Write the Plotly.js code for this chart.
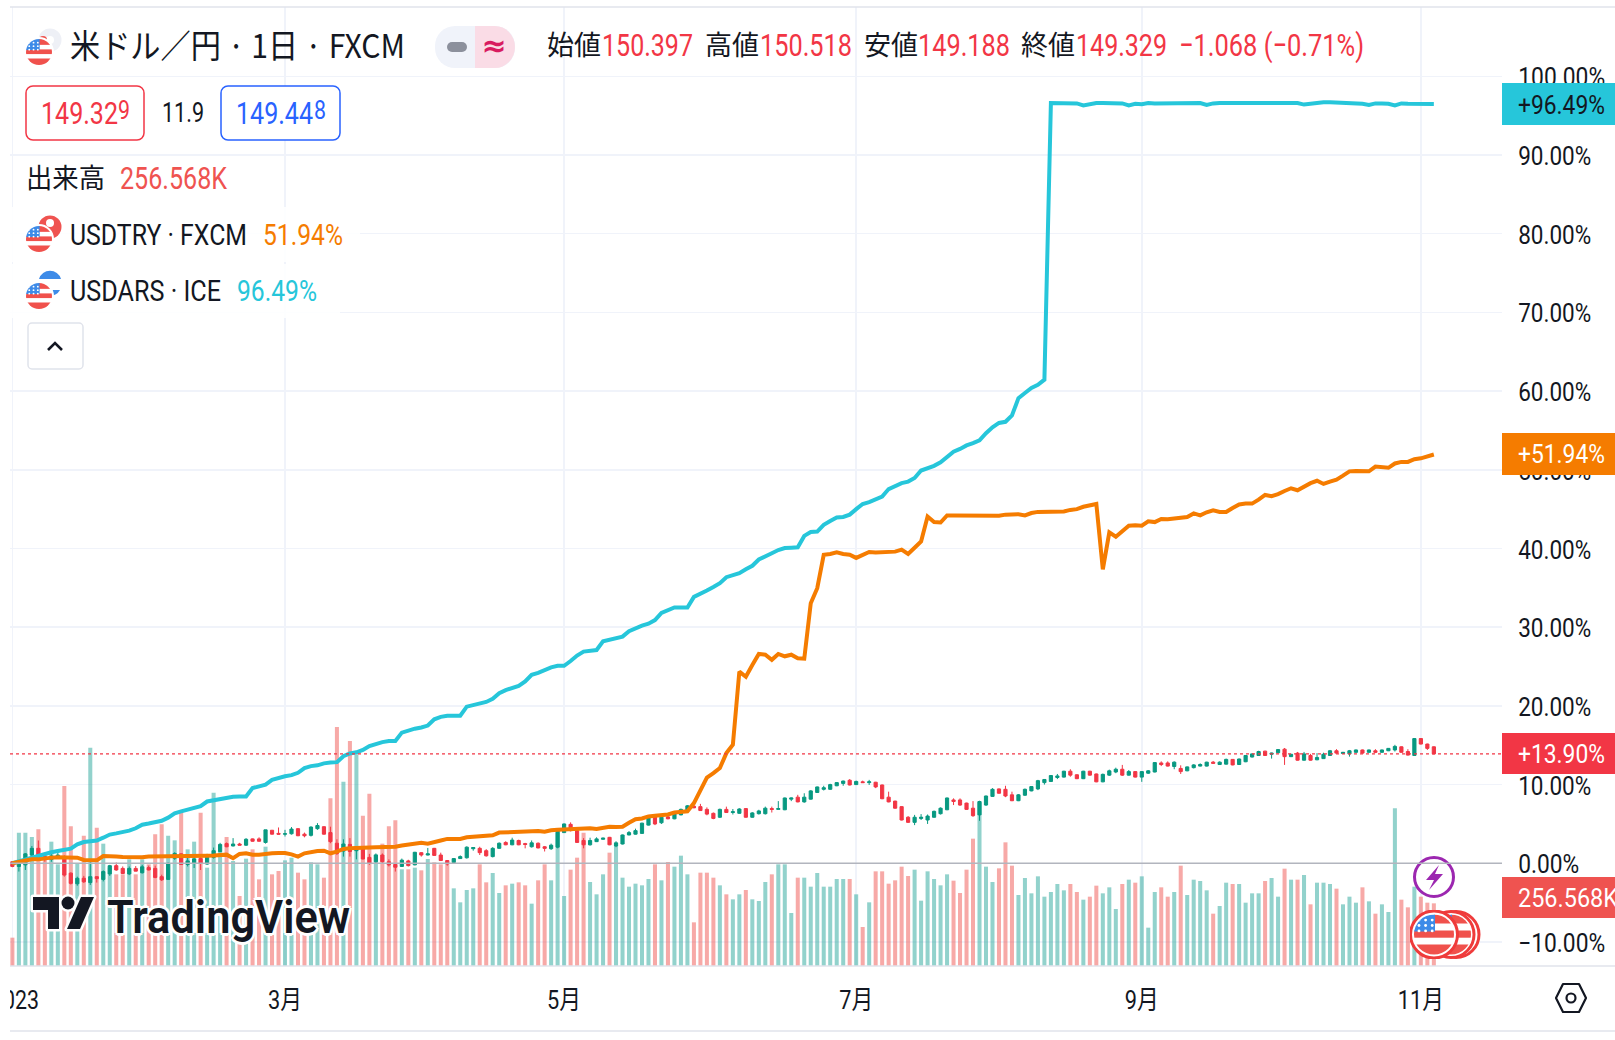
<!DOCTYPE html>
<html lang="ja">
<head>
<meta charset="utf-8">
<title>米ドル／円</title>
<script src="https://cdn.plot.ly/plotly-3.0.1.min.js"></script>
<style>
html,body{margin:0;padding:0;background:#fff;width:1615px;height:1040px;overflow:hidden}
#chart{position:absolute;left:10px;top:0;width:1605px;height:1040px;overflow:hidden}
</style>
</head>
<body>
<div id="chart"></div>
<script>
// ---- price candles, % change from the start of the visible range ----
const opens = [
.2,-.4,-.2,1.05,1.9,.85,.5,.75,.85,-1.25,
-2.6,-1.9,-2.45,-1.7,-2.05,-1.35,-.3,-.65,-1.35,-.65,
-1.2,-.55,-.65,-1.7,-2.05,.65,1.2,-.15,0,.6,
-.1,.75,1.5,2.5,2.2,2.45,2.3,3.1,3.1,2.65,
4.2,3.8,3.7,3.75,4.4,3.7,3.55,4.4,4.65,3.9,
2.55,1.55,2.4,1.6,2.05,.75,.2,1.05,.2,-.15,
-.4,.3,-.2,1.35,1.05,1.9,1.05,.35,.1,.6,
.7,1.85,1.9,1.6,.85,1.9,2.65,2.35,2.9,2.5,
2.1,2.55,2.1,1.85,2.05,3.9,4.95,4.15,2.9,2.35,
2.75,3.05,3.3,2.2,2.45,3.6,3.7,3.8,4.85,5.9,
5.15,5.9,5.65,6.15,6.7,7.25,7.2,6.85,6.35,5.85,
6.85,6.45,6.35,6.95,5.85,6.3,6.3,6.95,6.85,6.8,
8.15,8.4,7.8,8.15,9.0,9.4,9.4,9.85,10.15,10.55,
10.0,10.35,10.25,10.3,9.95,8.4,7.9,7.2,5.85,5.2,
5.7,5.5,5.85,6.3,6.8,8.05,8.05,7.65,7.0,6.15,
7.4,8.5,9.45,9.4,8.7,7.95,8.65,9.2,9.45,10.25,
10.4,10.9,10.95,11.7,11.25,10.75,11.7,11.35,10.35,11.2,
11.6,11.95,11.2,11.65,10.95,11.45,11.6,12.75,12.75,12.3,
12.05,11.75,12.15,12.35,12.35,12.85,12.55,12.6,13.2,12.55,
12.9,13.5,13.7,14.25,13.85,14.05,14.5,13.55,14.0,13.1,
13.7,13.15,13.3,13.7,14.3,13.95,13.9,14.1,14.4,14.1,
14.3,14.1,14.3,14.4,14.8,14.2,13.7,15.85,15.15,14.8];
const closes = [
-.4,.2,1.2,1.9,.65,.5,.93,1.05,-1.5,-2.55,
-1.9,-2.35,-1.7,-1.95,-1.05,-.3,-.85,-1.3,-.65,-1.0,
-.45,-.85,-1.8,-2.1,0,1.25,-.15,.3,.55,0,
1.05,1.6,2.4,2.1,2.45,2.3,3.05,2.8,2.8,4.25,
3.7,3.7,3.75,4.35,3.5,3.5,4.6,4.8,3.7,2.75,
1.25,2.45,1.5,2.1,.55,0,1.05,.2,-.2,-.5,
.4,-.3,1.4,1.05,1.2,1.0,.35,-.1,.6,.85,
2.05,2.0,1.35,.95,1.9,2.55,2.35,2.95,2.35,2.4,
2.6,1.95,1.9,2.3,4.1,5.0,4.15,2.65,2.35,2.9,
3.1,3.2,2.35,2.6,3.6,3.9,4.15,5.1,5.85,5.0,
5.85,5.65,6.35,6.85,7.3,7.05,6.7,6.25,5.7,6.85,
6.45,6.55,6.9,5.85,6.4,6.65,7.0,6.85,6.95,8.3,
8.3,7.8,8.4,9.2,9.7,9.6,10.0,10.25,10.45,9.95,
10.4,10.25,10.35,9.7,8.2,7.8,7.0,5.5,5.2,5.85,
5.85,6.0,6.6,7.0,8.3,7.85,7.4,6.85,6.05,7.85,
8.55,9.4,8.9,8.55,7.95,8.7,9.4,9.75,10.5,10.65,
11.15,11.1,11.7,11.2,10.75,11.7,11.2,10.35,11.3,11.75,
11.95,11.2,11.65,10.95,11.65,11.75,12.8,12.55,12.35,12.85,
11.65,12.25,12.5,12.55,12.85,12.7,12.85,13.2,12.5,13.25,
13.7,13.9,14.2,13.7,14.0,14.45,13.55,13.85,13.1,13.9,
13.1,13.45,13.85,14.3,14.0,14.1,14.3,14.4,14.0,14.4,
14.1,14.4,14.6,14.85,14.1,13.75,15.85,15.15,14.6,13.9];
const highs = [
.25,.3,1.3,2.2,2.9,1.3,1.3,1.4,1.0,-1.15,
-1.7,-1.6,.5,-1.65,-.9,-.2,.1,-.4,-.4,-.35,
-.2,-.3,-.3,-1.45,.1,1.4,1.25,.8,1.0,1.05,
1.2,2.0,2.6,2.65,3.2,2.6,3.2,3.15,3.3,4.25,
4.2,4.55,4.25,4.6,4.45,3.9,4.7,5.1,4.7,4.65,
3.05,3.05,3.2,2.2,2.1,1.2,1.25,1.25,.5,-.1,
.6,.45,1.45,1.4,1.95,1.95,1.35,.4,.65,1.0,
2.15,2.0,2.1,1.8,2.05,2.65,2.8,3.25,3.0,2.6,
2.9,2.65,2.2,2.5,4.2,5.05,5.2,4.2,3.2,3.25,
3.3,3.25,3.35,2.8,3.65,4.1,4.4,5.15,6.0,6.1,
5.95,6.0,6.5,6.95,7.4,7.5,7.55,7.1,6.45,6.95,
7.2,6.9,7.0,7.0,6.5,6.8,7.2,7.2,7.9,8.35,
8.35,8.7,8.9,9.3,9.75,9.85,10.1,10.3,10.5,10.7,
10.5,10.5,10.6,10.35,10.0,9.1,7.95,7.25,6.0,6.15,
6.25,6.2,6.7,7.1,8.35,8.25,8.25,7.7,7.9,7.95,
8.6,9.55,9.5,9.85,9.1,8.8,9.5,9.8,10.6,10.7,
11.2,11.35,11.75,11.95,11.3,11.75,11.75,11.4,11.4,11.9,
12.15,12.5,11.85,11.7,11.7,11.85,12.85,12.95,12.95,12.95,
12.45,12.3,12.6,12.7,12.9,13.0,12.95,13.3,13.25,13.3,
13.75,13.95,14.3,14.3,14.05,14.5,14.65,13.9,14.15,14.15,
13.9,14.0,14.05,14.4,14.5,14.15,14.4,14.45,14.45,14.45,
14.5,14.45,14.65,15.05,14.85,14.5,15.9,15.9,15.2,14.85];
const lows = [
-.5,-1.05,-.85,.65,.4,.2,.2,.6,-1.7,-2.7,
-2.85,-2.5,-2.75,-2.45,-2.3,-1.6,-.95,-1.35,-1.5,-1.0,
-1.3,-.9,-1.9,-2.25,-2.05,.45,-.2,-.4,-.6,-.85,
-.2,.6,1.4,2.05,2.15,2.3,2.2,2.75,2.75,2.5,
3.65,3.65,3.4,3.65,3.45,3.3,3.4,4.25,3.65,2.55,
1.05,.85,.85,.5,.5,-.2,0,0,-.4,-1.05,
-.45,-.4,-.25,.85,1.0,.95,.3,-.3,0,.55,
.6,1.6,1.05,.85,.75,1.85,2.3,2.3,2.3,1.9,
2.0,1.9,1.5,1.7,1.9,3.85,4.05,2.6,1.9,2.25,
2.7,3,2.3,2.05,2.4,3.55,3.65,3.75,4.8,4.85,
5,5.6,5.6,6.1,6.65,7,6.65,6.1,5.6,5.75,
6.4,6.2,6.3,5.8,5.8,6.2,6.2,6.45,6.85,6.75,
7.9,7.75,7.7,8.1,8.95,9.25,9.35,9.8,9.85,9.9,
9.95,10.25,9.95,9.55,8.15,7.75,6.95,5.45,5.15,4.85,
5.5,5.0,5.8,6.2,6.75,7.4,7.3,6.8,5.9,5.4,
7.3,8.45,8.85,8.4,7.9,7.9,8.55,9.15,9.3,10.0,
10.35,10.7,10.9,11.0,10.7,10.7,11.15,10.3,10.3,11.1,
11.45,11.1,11.15,10.9,10.35,11.35,11.55,12.35,12.3,11.95,
11.35,11.7,12.05,12.3,12.3,12.65,12.5,12.55,12.45,12.5,
12.85,13.45,13.65,13.65,13.3,14.0,12.5,13.5,13.05,13.05,
13.05,13.1,13.25,13.65,13.95,13.9,13.55,14.05,13.95,14.05,
14.0,14.05,14.25,14.2,14.05,13.7,13.65,15.1,14.4,13.85];
// ---- volume, relative units ----
const volumes = [
85,400,400,387,410,335,373,305,540,419,
308,391,655,415,367,295,275,275,320,275,
320,305,395,425,391,377,465,350,373,460,
295,520,345,387,315,210,322,350,260,358,
275,285,317,325,280,260,311,305,265,503,
717,553,675,635,451,517,335,367,419,437,
290,290,295,287,321,311,305,305,233,191,
228,233,305,251,279,219,242,247,251,242,
187,257,305,257,400,210,289,325,400,252,
215,275,340,363,265,238,247,242,261,305,
257,312,298,331,275,131,280,280,265,242,
215,200,215,228,200,195,252,275,305,305,
159,265,265,238,279,238,238,261,261,261,
215,117,191,284,284,247,257,298,270,289,
196,284,261,242,275,256,219,289,382,490,
298,252,293,371,301,213,264,218,269,208,
222,246,227,246,222,199,208,241,218,236,
171,246,259,250,269,115,222,236,208,222,
301,213,259,255,227,157,180,250,246,246,
190,218,218,255,264,208,292,259,259,273,
185,250,250,246,232,185,208,190,236,194,
157,185,162,473,199,176,238,208,190,188];
// ---- comparison series, % change ----
const usdtry = [
0,.17,.34,.5,.5,.64,.72,.76,.76,.76,
.72,.42,.42,.38,.93,.93,.85,.8,.76,.72,
.76,.85,.85,.85,.85,.85,.85,.85,.89,.93,
.97,1.0,1.1,1.1,.64,1.19,1.27,1.1,1.1,1.23,
1.27,1.31,1.31,1.14,.85,1.27,1.48,1.57,1.6,1.27,
1.48,1.82,1.9,1.9,2.0,2.0,2.03,2.03,2.05,2.1,
2.25,2.35,2.4,2.6,2.5,2.75,2.9,3.1,3.05,3.1,
3.3,3.35,3.5,3.55,3.55,3.9,3.95,4.0,4.05,4.07,
4.15,4.1,4.0,4.2,4.25,4.3,4.25,4.3,4.35,4.45,
4.35,4.5,4.65,4.6,4.65,5.15,5.6,5.7,5.95,6.05,
6.15,6.2,6.45,6.5,6.6,7.65,9.3,10.9,11.45,12.1,
14,15.05,24.35,23.7,25.2,26.6,26.5,25.85,26.6,26.3,
26.5,26.05,26,33.05,34.95,39.2,39.3,39.5,39.3,39.2,
38.8,39.2,39.55,39.5,39.5,39.6,39.6,39.85,39.3,40.1,
40.9,44.05,43.35,43.3,44.2,44.2,44.2,44.2,44.25,44.2,
44.25,44.2,44.15,44.3,44.3,44.35,44.2,44.5,44.65,44.65,
44.65,44.7,44.7,44.9,45,45.3,45.45,45.65,37.35,42.05,
41.5,42.15,42.9,42.95,42.9,43.45,43.35,43.75,43.7,43.8,
43.9,44.0,44.45,44.2,44.6,44.85,44.65,44.65,45.15,45.6,
45.7,45.7,46.2,46.8,46.65,46.9,47.3,47.65,47.4,47.9,
48.3,48.6,48.2,48.5,48.75,49.25,49.8,49.85,49.85,49.8,
50.4,50.35,50.25,50.8,51,51,51.35,51.45,51.65,51.94];
const usdars = [
0,.25,.5,.75,.95,1.25,1.4,1.55,1.7,1.85,
2.4,2.7,2.8,2.9,3.25,3.65,3.8,3.95,4.15,4.45,
4.9,5.05,5.2,5.4,5.8,6.35,6.6,6.8,7.0,7.25,
7.85,8.0,8.2,8.4,8.45,8.5,8.5,9.55,9.75,10,
10.6,10.85,11.05,11.2,11.5,12.1,12.35,12.45,12.7,12.8,
12.85,13.6,13.95,14.1,14.4,14.9,15.2,15.4,15.55,15.55,
16.6,16.9,17.1,17.25,17.5,18.3,18.6,18.75,18.8,18.75,
19.9,20.1,20.3,20.5,20.9,21.6,22.0,22.3,22.55,23.1,
23.95,24.2,24.55,24.9,25.1,25.1,25.7,26.4,26.9,27.05,
27.1,28.2,28.4,28.6,28.8,29.5,29.9,30.2,30.45,30.9,
31.8,32.15,32.5,32.5,32.5,33.85,34.2,34.65,35.1,35.6,
36.35,36.6,36.85,37.35,37.8,38.6,38.95,39.4,39.8,40.05,
40.1,40.15,41.6,42.1,42.15,43,43.5,43.95,44,44.3,
45,45.65,45.9,46.3,46.6,47.55,47.9,48.3,48.5,48.95,
49.9,50.2,50.5,50.95,51.6,52.3,52.65,53.1,53.4,53.75,
54.65,55.4,55.95,56.1,56.9,59.1,59.75,60.4,60.8,61.45,
96.6,96.6,96.6,96.55,96.55,96.3,96.5,96.6,96.6,96.55,
96.6,96.55,96.3,96.5,96.45,96.6,96.55,96.55,96.55,96.55,
96.55,96.6,96.6,96.6,96.35,96.55,96.6,96.6,96.6,96.6,
96.6,96.6,96.55,96.55,96.6,96.55,96.55,96.6,96.6,96.4,
96.5,96.65,96.7,96.7,96.65,96.6,96.55,96.6,96.5,96.35,
96.55,96.55,96.5,96.3,96.55,96.5,96.5,96.5,96.5,96.49];
// ---- axes ----
const monthTickBars = [0,42,85,130,174,217];
const monthTickLabels = ["2023","3月","5月","7月","9月","11月"];
const pctTicks = [-10,0,10,20,30,40,50,60,70,80,90,100];
const pctTickLabels = ["−10.00%","0.00%","10.00%","20.00%","30.00%","40.00%","50.00%","60.00%","70.00%","80.00%","90.00%","100.00%"];
const lastClose = 13.90;

const barIndex = closes.map((_, i) => i);
const UP = "#089981", DOWN = "#F23645", TEAL = "#26C6DA", ORANGE = "#F57C00";
const NARROW = 'Roboto,"Noto Sans CJK JP",sans-serif';
const CJK = '"Noto Sans CJK JP",Roboto,sans-serif';
const INK = "#131722";

// pixel → paper helpers
const L = 10, R = 1502, T = 7, B = 966;
const xp = px => (px - L) / (R - L);
const yp = py => (B - py) / (B - T);

function ann(text, x, y, size, color, w, opt = {}) {
  return Object.assign({
    text, x: xp(x - 2), y: yp(y), xref: "paper", yref: "paper", showarrow: false,
    xanchor: "left", yanchor: "middle", w,
    font: { family: NARROW, size, color }
  }, opt);
}
function img(svg, x0, y0, w, h) {
  return {
    source: "data:image/svg+xml," + encodeURIComponent(
      `<svg xmlns="http://www.w3.org/2000/svg" viewBox="0 0 ${w} ${h}" width="${w}" height="${h}">${svg}</svg>`),
    xref: "paper", yref: "paper", x: xp(x0), y: yp(y0),
    sizex: w / (R - L), sizey: h / (B - T), xanchor: "left", yanchor: "top",
    sizing: "stretch", layer: "above"
  };
}
function box(x0, y0, x1, y1, fill) {
  return { type: "rect", xref: "paper", yref: "paper", x0: xp(x0), x1: xp(x1), y0: yp(y0), y1: yp(y1),
    fillcolor: fill, line: { width: 0 }, layer: "above" };
}

// icon drawings
function usDisc(cx, cy, r, id) {
  const d = r * 0.13;
  let stars = "";
  for (let a = 0; a < 3; a++) for (let b = 0; b < 3; b++)
    stars += `<circle cx="${cx - r*0.75 + a*r*0.33}" cy="${cy - r*0.72 + b*r*0.27}" r="${d*0.55}" fill="#fff"/>`;
  return `<clipPath id="${id}"><circle cx="${cx}" cy="${cy}" r="${r}"/></clipPath>
  <g clip-path="url(#${id})"><rect x="${cx-r}" y="${cy-r}" width="${2*r}" height="${2*r}" fill="#fff"/>
  <rect x="${cx-r}" y="${cy-r*0.2}" width="${2*r}" height="${r*0.36}" fill="#F0514C"/>
  <rect x="${cx-r}" y="${cy+r*0.5}" width="${2*r}" height="${r*0.6}" fill="#F0514C"/>
  <rect x="${cx}" y="${cy-r}" width="${r}" height="${r*0.45}" fill="#F0514C"/>
  <rect x="${cx-r}" y="${cy-r}" width="${r*1.05}" height="${r*0.85}" fill="#3D8BE8"/>${stars}</g>`;
}
function pairIcon(kind, id) {
  let second = "";
  if (kind === "jp") second = `<circle cx="25" cy="14" r="11.5" fill="#EEF0F6"/><circle cx="25" cy="14" r="4" fill="#fff"/><circle cx="18" cy="14" r="4" fill="#F0514C"/>`;
  if (kind === "tr") second = `<circle cx="25" cy="14" r="11.5" fill="#EF5350"/><circle cx="25" cy="10" r="4" fill="#fff"/>`;
  if (kind === "ar") second = `<circle cx="25" cy="14" r="11.5" fill="#fff"/><path d="M14 9 a11.5 11.5 0 0 1 22 0z" fill="#3D8BE8"/><path d="M15 20 a11.5 11.5 0 0 0 20 0z" fill="#3D8BE8"/>`;
  return second + `<circle cx="14" cy="26" r="15" fill="#fff"/>` + usDisc(14, 26, 13, id);
}
const coinSvg = `<circle cx="46" cy="24.5" r="23" fill="#fff" stroke="#EF3B3B" stroke-width="3"/>
  <circle cx="41" cy="24.5" r="23" fill="#fff" stroke="#EF3B3B" stroke-width="3"/>` + usDisc(41, 24.5, 20, "c1") +
  `<circle cx="24" cy="24.5" r="23.5" fill="#fff" stroke="#EF3B3B" stroke-width="3"/>` + usDisc(24, 24.5, 20, "c2");
const boltSvg = `<circle cx="22" cy="24" r="19.5" fill="#fff" stroke="#9C27B0" stroke-width="3"/>
  <path d="M27 12 L14 27 H22 L17 37 L31 21 H23 Z" fill="#9C27B0"/>`;
const gearSvg = `<path d="M8 2 H24 L31 16 L24 30 H8 L1 16 Z" fill="none" stroke="#131722" stroke-width="2.2" stroke-linejoin="round"/>
  <circle cx="16" cy="16" r="4.5" fill="none" stroke="#131722" stroke-width="2.2"/>`;
const pillSvg = `<rect x="0" y="0" width="80" height="42" rx="20" fill="#F0F3FA"/>
  <path d="M40 0 H60 a20 21 0 0 1 0 42 H40 Z" fill="#FADCE6"/>
  <rect x="12" y="16" width="20" height="10" rx="5" fill="#8C909C"/>
  <text x="59" y="30" text-anchor="middle" font-family="DejaVu Sans" font-weight="bold" font-size="30" fill="#D81B60">≈</text>`;
const logoSvg = `<g stroke="#fff" stroke-width="5" paint-order="stroke" stroke-linejoin="round" fill="#131722">
  <path d="M5 4 H31 V36 H20 V17 H5 Z"/><circle cx="40" cy="10" r="6.5"/><path d="M53 4 H66 L52 36 H39 Z"/></g>`;
const outlineBox = (w, h, c) => `<rect x="1" y="1" width="${w-2}" height="${h-2}" rx="7" fill="#fff" stroke="${c}" stroke-width="1.5"/>`;
const chevronBtn = `<rect x="1" y="1" width="55" height="46" rx="4" fill="#fff" stroke="#E0E3EB" stroke-width="1.5"/>
  <path d="M21 28 L28 21 L35 28" fill="none" stroke="#131722" stroke-width="2.6"/>`;
const veil = (w, h) => `<rect width="${w}" height="${h}" fill="#fff" fill-opacity="0.85"/>`;

const traces = [
  { type: "bar", x: barIndex, y: volumes, xaxis: "x", yaxis: "y", width: 0.62,
    marker: { color: closes.map((c, i) => c >= opens[i] ? "rgba(38,166,154,0.5)" : "rgba(239,83,80,0.5)"), line: { width: 0 } },
    hoverinfo: "skip" },
  { type: "candlestick", x: barIndex, open: opens, high: highs, low: lows, close: closes, xaxis: "x", yaxis: "y2",
    whiskerwidth: 0,
    increasing: { line: { color: UP, width: 1 }, fillcolor: UP },
    decreasing: { line: { color: DOWN, width: 1 }, fillcolor: DOWN },
    hoverinfo: "skip" },
  { type: "scatter", mode: "lines", x: barIndex, y: usdars, xaxis: "x", yaxis: "y2",
    line: { color: TEAL, width: 4, shape: "linear" }, hoverinfo: "skip" },
  { type: "scatter", mode: "lines", x: barIndex, y: usdtry, xaxis: "x", yaxis: "y2",
    line: { color: ORANGE, width: 4, shape: "linear" }, hoverinfo: "skip" }
];

const shapes = [
  { type: "line", xref: "paper", yref: "y2", x0: 0, x1: 1, y0: 0, y1: 0, line: { color: "#B2B5BE", width: 1.5 }, layer: "above" },
  { type: "line", xref: "paper", yref: "y2", x0: 0, x1: 1, y0: lastClose, y1: lastClose, line: { color: DOWN, width: 1.2, dash: "dot" }, layer: "above" },
  { type: "line", xref: "paper", yref: "paper", x0: 0, x1: (1615-L)/(R-L), y0: yp(7), y1: yp(7), line: { color: "#E0E3EB", width: 1.5 }, layer: "above" },
  { type: "line", xref: "paper", yref: "paper", x0: 0, x1: (1615-L)/(R-L), y0: yp(1031), y1: yp(1031), line: { color: "#E0E3EB", width: 1.5 }, layer: "above" },
  { type: "line", xref: "paper", yref: "paper", x0: 0, x1: (1615-L)/(R-L), y0: 0, y1: 0, line: { color: "#E0E3EB", width: 1.5 }, layer: "above" },
  box(1502, 83, 1615, 125, TEAL),
  box(1502, 433, 1615, 475, ORANGE),
  box(1502, 733, 1615, 774, DOWN),
  box(1502, 877, 1615, 918, "#EF5350")
];

const images = [
  img(veil(350, 55), 10, 207, 350, 55),
  img(veil(330, 54), 10, 264, 330, 54),
  img(pairIcon("jp", "a1"), 25, 26, 38, 42),
  img(pairIcon("tr", "a2"), 25, 213, 38, 42),
  img(pairIcon("ar", "a3"), 25, 270, 38, 42),
  img(pillSvg, 435, 26, 80, 42),
  img(outlineBox(120, 56, "#F23645"), 25, 85, 120, 56),
  img(outlineBox(121, 56, "#2962FF"), 220, 85, 121, 56),
  img(chevronBtn, 27, 322, 57, 48),
  img(logoSvg, 28, 893, 70, 44),
  img(boltSvg, 1412, 853, 44, 48),
  img(coinSvg, 1410, 910, 72, 49),
  img(gearSvg, 1555, 982, 32, 32)
];

const cjkFont = s => ({ font: { family: CJK, size: s, color: INK } });
const annotations = [
  ann("米ドル／円 · 1日 · FXCM", 70, 44, 33, INK, 335, cjkFont(33)),
  ann("始値", 547, 44, 27, INK, 54, cjkFont(27)),
  ann("150.397", 602, 45, 32, DOWN, 91),
  ann("高値", 705, 44, 27, INK, 54, cjkFont(27)),
  ann("150.518", 760, 45, 32, DOWN, 92),
  ann("安値", 864, 44, 27, INK, 54, cjkFont(27)),
  ann("149.188", 918, 45, 32, DOWN, 92),
  ann("終値", 1021, 44, 27, INK, 54, cjkFont(27)),
  ann("149.329", 1076, 45, 32, DOWN, 91),
  ann("−1.068 (−0.71%)", 1179, 45, 32, DOWN, 185),
  ann("149.32", 41, 113, 32, DOWN, 77),
  ann("9", 118, 110, 26, DOWN, 12),
  ann("11.9", 162, 113, 28, INK, 42),
  ann("149.44", 236, 113, 32, "#2962FF", 77),
  ann("8", 314, 110, 26, "#2962FF", 12),
  ann("出来高", 26, 176, 27, INK, 79, cjkFont(27)),
  ann("256.568K", 120, 178, 32, "#EF5350", 107),
  ann("USDTRY · FXCM", 70, 234, 30, INK, 177),
  ann("51.94%", 263, 234, 30, ORANGE, 80),
  ann("USDARS · ICE", 70, 290, 30, INK, 151),
  ann("96.49%", 237, 290, 30, TEAL, 80),
  ann("+96.49%", 1518, 105, 26, INK, 87),
  ann("+51.94%", 1518, 454, 26, "#fff", 87),
  ann("+13.90%", 1518, 754, 26, "#fff", 87),
  ann("256.568K", 1518, 898, 26, "#fff", 100),
  ann("TradingView", 107, 916, 47, INK, 243, {
    font: { family: "Roboto,Inter,sans-serif", size: 47, color: INK, weight: 600,
      shadow: "3px 0 0 #fff,-3px 0 0 #fff,0 3px 0 #fff,0 -3px 0 #fff,2px 2px 0 #fff,-2px -2px 0 #fff,2px -2px 0 #fff,-2px 2px 0 #fff" }
  })
];

const layout = {
  width: 1605, height: 1040, showlegend: false, dragmode: false, hovermode: false,
  paper_bgcolor: "#fff", plot_bgcolor: "#fff",
  margin: { l: 0, r: 113, t: 7, b: 74, pad: 0 },
  xaxis: {
    domain: [0, 1], range: [-0.37, 229.5], tickmode: "array", tickvals: monthTickBars, ticktext: monthTickLabels,
    showgrid: true, gridcolor: "#F0F3FA", gridwidth: 1.5, zeroline: false, showline: false,
    ticks: "outside", ticklen: 11, tickcolor: "rgba(0,0,0,0)", ticklabeloverflow: "allow",
    tickfont: { family: NARROW, size: 26, color: INK }, rangeslider: { visible: false }, fixedrange: true
  },
  yaxis: { domain: [0, 1], range: [0, 2877], visible: false, showgrid: false, zeroline: false, fixedrange: true },
  yaxis2: {
    overlaying: "y", side: "right", anchor: "x", range: [-13.05, 108.8], tickmode: "array",
    tickvals: pctTicks, ticktext: pctTickLabels, showgrid: true, gridcolor: "#F0F3FA", gridwidth: 1.5, zeroline: false,
    showline: false, ticks: "outside", ticklen: 10, tickcolor: "rgba(0,0,0,0)", ticklabeloverflow: "allow",
    tickfont: { family: NARROW, size: 26, color: INK }, fixedrange: true
  },
  shapes, images, annotations
};

// The reference's type is narrow; the text stays real text, fitted to its measured width.
function fit(el, target) {
  el.setAttribute("textLength", target);
  el.setAttribute("lengthAdjust", "spacingAndGlyphs");
}
Plotly.newPlot("chart", traces, layout, { displayModeBar: false, staticPlot: true }).then(() => {
  const root = document.getElementById("chart");
  root.querySelectorAll(".annotation-text").forEach((el, i) => {
    const w = el.getComputedTextLength(), target = annotations[i].w;
    const x = parseFloat(el.getAttribute("x") || 0);
    el.setAttribute("x", x - (w - target) / 2);
    fit(el, target);
  });
  root.querySelectorAll(".y2tick text, .yaxislayer-above text").forEach(el => {
    const n = el.textContent.length;
    fit(el, n === 7 ? 87 : n === 6 ? 73 : 61);
    el.setAttribute("dy", 1);
  });
  root.querySelectorAll(".xtick text").forEach(el => {
    const t = el.textContent;
    fit(el, t === "2023" ? 48 : t === "11月" ? 46 : 34);
    if (t === "2023") el.setAttribute("dx", 2.5);
  });
});
</script>
</body>
</html>
